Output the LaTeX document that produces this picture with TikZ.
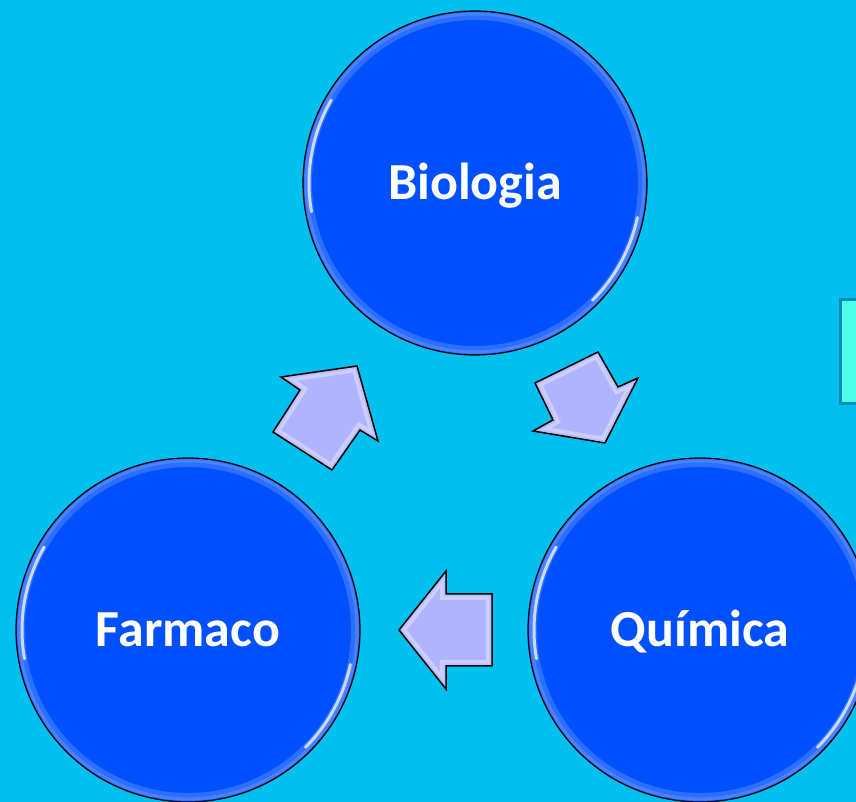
\documentclass[tikz,border=0pt]{standalone}
\usepackage{fontspec}
\setmainfont{Carlito}
\definecolor{fondo}{RGB}{0,192,240}
\definecolor{azul}{RGB}{0,80,255}
\definecolor{lila}{RGB}{176,180,255}
\definecolor{caja}{RGB}{77,255,232}
\definecolor{cajaborde}{RGB}{0,140,180}

\tikzset{
  tema/.style={circle, draw=black, line width=1.2pt, fill=azul, minimum size=344pt,
    inner sep=0pt, text=white, text height=34pt, text depth=0pt,
    font=\fontsize{52}{60}\selectfont\bfseries},
  brillo/.style={white, line width=3pt, opacity=.75, line cap=round},
  anillo/.style={azul!50!white, line width=8pt, opacity=.35},
  flecha/.style={draw=black, line width=1.5pt},
}

\begin{document}
\begin{tikzpicture}[x=1pt,y=1pt]
\useasboundingbox (0,0) rectangle (856,802);
\clip (0,0) rectangle (856,802);
\fill[fondo] (0,0) rectangle (856,802);

% caja a la derecha
\draw[fill=caja, draw=cajaborde, line width=3pt] (840,398) rectangle (870,502);

% los tres temas
\node[tema] (bio) at (475,619) {Biologia};
\node[tema] (farm) at (188,172) {Farmaco};
\node[tema] (quim) at (700,172) {Química};

% brillo de los circulos
\foreach \c in {bio,farm,quim}{
  \draw[anillo] (\c.center) circle[radius=167];
  \draw[anillo, line width=3pt] (\c.center) circle[radius=169];
  \draw[brillo] ([shift={(150:166)}]\c.center) arc[start angle=150, end angle=190, radius=166];
  \draw[brillo] ([shift={(-12:166)}]\c.center) arc[start angle=-12, end angle=-45, radius=166];
}

% flechas
\def\flechaA{(357,436) -- (281,425) -- (300,412) -- (273,370) -- (332,332) -- (360,372) -- (378,361) -- cycle}
\def\flechaB{(598,450) -- (535,419) -- (553,382) -- (533,371) -- (605,359) -- (638,424) -- (618,415) -- cycle}
\def\flechaC{(399,172) -- (446,231) -- (446,208) -- (492,208) -- (492,136) -- (446,136) -- (446,113) -- cycle}

\foreach \f in {\flechaA,\flechaB,\flechaC}{
  \fill[lila] \f;
  \begin{scope}
    \clip \f;
    \draw[white, line width=12pt, opacity=.35] \f;
    \draw[lila, line width=5pt, opacity=.6] \f;
  \end{scope}
  \draw[flecha] \f;
}
\end{tikzpicture}
\end{document}
